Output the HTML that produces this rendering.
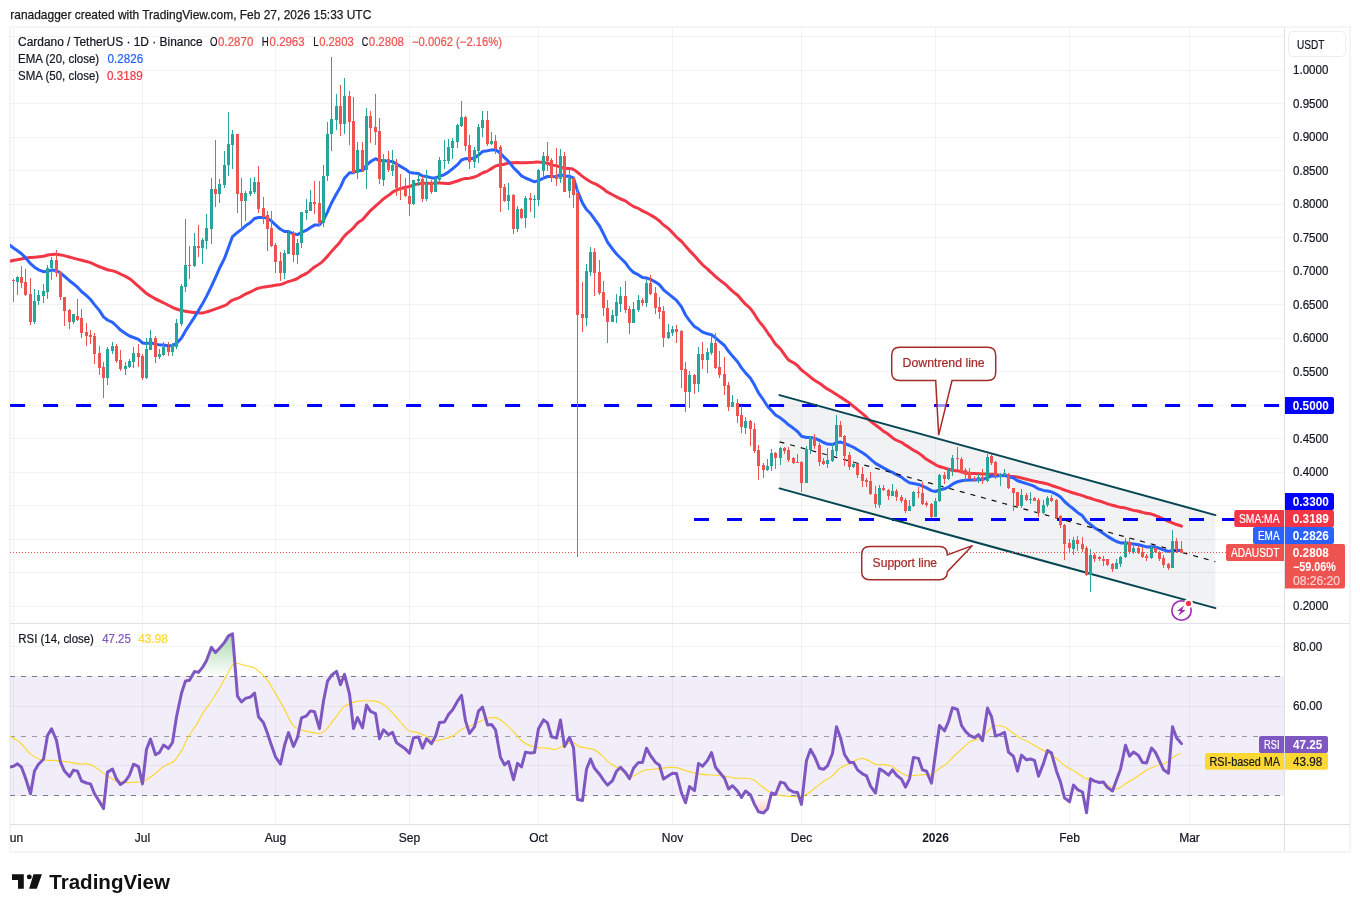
<!DOCTYPE html>
<html lang="en"><head><meta charset="utf-8"><title>ADAUSDT chart</title>
<style>html,body{margin:0;padding:0;background:#fff}body{width:1360px;height:912px;position:relative;overflow:hidden;font-family:"Liberation Sans",sans-serif}</style></head>
<body>
<svg width="1360" height="912" viewBox="0 0 1360 912" style="position:absolute;left:0;top:0;font-family:'Liberation Sans',sans-serif">
<defs>
<clipPath id="cpMain"><rect x="10" y="28" width="1275" height="595"/></clipPath>
<clipPath id="cpRsi"><rect x="10" y="624" width="1275" height="200"/></clipPath>
<clipPath id="cpTime"><rect x="10" y="825" width="1275" height="26"/></clipPath>
<linearGradient id="gUp" x1="0" y1="0" x2="0" y2="1"><stop offset="0" stop-color="#4caf50" stop-opacity="0.48"/><stop offset="1" stop-color="#4caf50" stop-opacity="0"/></linearGradient>
<linearGradient id="gDn" x1="0" y1="0" x2="0" y2="1"><stop offset="0" stop-color="#ff5252" stop-opacity="0"/><stop offset="1" stop-color="#ff5252" stop-opacity="0.3"/></linearGradient>
</defs>
<rect width="1360" height="912" fill="#fff"/>
<text x="10.3" y="19" font-size="12.6" fill="#1a1a1a" stroke="#1a1a1a" stroke-width="0.25" textLength="361" lengthAdjust="spacingAndGlyphs">ranadagger created with TradingView.com, Feb 27, 2026 15:33 UTC</text>
<rect x="10" y="27" width="1340" height="825" fill="#fff" stroke="#f4f5f6" stroke-width="2"/>
<g shape-rendering="crispEdges">
<rect x="13" y="28" width="1" height="595" fill="#24302e" fill-opacity="0.06"/>
<rect x="13" y="624" width="1" height="200" fill="#24302e" fill-opacity="0.06"/>
<rect x="142" y="28" width="1" height="595" fill="#24302e" fill-opacity="0.06"/>
<rect x="142" y="624" width="1" height="200" fill="#24302e" fill-opacity="0.06"/>
<rect x="275" y="28" width="1" height="595" fill="#24302e" fill-opacity="0.06"/>
<rect x="275" y="624" width="1" height="200" fill="#24302e" fill-opacity="0.06"/>
<rect x="409" y="28" width="1" height="595" fill="#24302e" fill-opacity="0.06"/>
<rect x="409" y="624" width="1" height="200" fill="#24302e" fill-opacity="0.06"/>
<rect x="538" y="28" width="1" height="595" fill="#24302e" fill-opacity="0.06"/>
<rect x="538" y="624" width="1" height="200" fill="#24302e" fill-opacity="0.06"/>
<rect x="672" y="28" width="1" height="595" fill="#24302e" fill-opacity="0.06"/>
<rect x="672" y="624" width="1" height="200" fill="#24302e" fill-opacity="0.06"/>
<rect x="801" y="28" width="1" height="595" fill="#24302e" fill-opacity="0.06"/>
<rect x="801" y="624" width="1" height="200" fill="#24302e" fill-opacity="0.06"/>
<rect x="935" y="28" width="1" height="595" fill="#24302e" fill-opacity="0.06"/>
<rect x="935" y="624" width="1" height="200" fill="#24302e" fill-opacity="0.06"/>
<rect x="1069" y="28" width="1" height="595" fill="#24302e" fill-opacity="0.06"/>
<rect x="1069" y="624" width="1" height="200" fill="#24302e" fill-opacity="0.06"/>
<rect x="1189" y="28" width="1" height="595" fill="#24302e" fill-opacity="0.06"/>
<rect x="1189" y="624" width="1" height="200" fill="#24302e" fill-opacity="0.06"/>
<rect x="10" y="36" width="1275" height="1" fill="#24302e" fill-opacity="0.06"/>
<rect x="10" y="70" width="1275" height="1" fill="#24302e" fill-opacity="0.06"/>
<rect x="10" y="103" width="1275" height="1" fill="#24302e" fill-opacity="0.06"/>
<rect x="10" y="137" width="1275" height="1" fill="#24302e" fill-opacity="0.06"/>
<rect x="10" y="170" width="1275" height="1" fill="#24302e" fill-opacity="0.06"/>
<rect x="10" y="204" width="1275" height="1" fill="#24302e" fill-opacity="0.06"/>
<rect x="10" y="237" width="1275" height="1" fill="#24302e" fill-opacity="0.06"/>
<rect x="10" y="271" width="1275" height="1" fill="#24302e" fill-opacity="0.06"/>
<rect x="10" y="304" width="1275" height="1" fill="#24302e" fill-opacity="0.06"/>
<rect x="10" y="338" width="1275" height="1" fill="#24302e" fill-opacity="0.06"/>
<rect x="10" y="371" width="1275" height="1" fill="#24302e" fill-opacity="0.06"/>
<rect x="10" y="405" width="1275" height="1" fill="#24302e" fill-opacity="0.06"/>
<rect x="10" y="438" width="1275" height="1" fill="#24302e" fill-opacity="0.06"/>
<rect x="10" y="472" width="1275" height="1" fill="#24302e" fill-opacity="0.06"/>
<rect x="10" y="505" width="1275" height="1" fill="#24302e" fill-opacity="0.06"/>
<rect x="10" y="539" width="1275" height="1" fill="#24302e" fill-opacity="0.06"/>
<rect x="10" y="572" width="1275" height="1" fill="#24302e" fill-opacity="0.06"/>
<rect x="10" y="606" width="1275" height="1" fill="#24302e" fill-opacity="0.06"/>
<rect x="10" y="646" width="1275" height="1" fill="#24302e" fill-opacity="0.06"/>
<rect x="10" y="706" width="1275" height="1" fill="#24302e" fill-opacity="0.06"/>
<rect x="10" y="765" width="1275" height="1" fill="#24302e" fill-opacity="0.06"/>
</g>
<g clip-path="url(#cpMain)">
<polygon points="779.5,395.1 1215.4,515.1 1215.4,608.1 779.5,488.4" fill="#5d6b7e" fill-opacity="0.085"/>
<path d="M10.0,261.2C11.6,260.9 16.6,259.8 19.9,259.2C23.2,258.6 26.1,258.1 29.7,257.6C33.4,257.2 38.3,257.1 41.6,256.6C44.9,256.2 47.0,255.1 49.5,254.7C51.9,254.3 54.4,254.2 56.4,254.3C58.4,254.3 59.2,254.6 61.3,255.1C63.5,255.5 66.2,256.3 69.2,257.0C72.2,257.8 75.8,258.8 79.1,259.6C82.4,260.5 85.7,261.0 88.9,262.2C92.2,263.3 95.9,265.3 98.8,266.5C101.8,267.7 104.1,268.7 106.7,269.5C109.3,270.3 112.0,270.5 114.6,271.4C117.2,272.4 119.9,273.7 122.5,275.0C125.1,276.3 127.8,277.5 130.4,279.3C133.0,281.2 135.7,283.9 138.3,286.2C140.9,288.6 143.6,291.2 146.2,293.2C148.8,295.1 151.1,296.4 154.1,298.1C157.0,299.7 160.7,301.4 163.9,303.0C167.2,304.7 170.9,306.7 173.8,308.0C176.8,309.2 179.0,309.9 181.7,310.5C184.4,311.2 187.5,311.6 190.0,311.9C192.5,312.2 194.5,312.4 196.8,312.5C199.2,312.6 199.5,313.8 204.1,312.6C208.7,311.4 220.4,307.2 224.5,305.6C228.6,304.0 227.2,303.9 228.5,303.0C229.8,302.1 231.0,300.9 232.5,300.2C234.0,299.4 236.0,299.0 237.5,298.4C239.0,297.8 240.2,297.1 241.5,296.4C242.8,295.7 244.0,294.8 245.5,294.1C247.0,293.3 249.0,292.7 250.5,291.9C252.0,291.2 253.2,290.4 254.5,289.8C255.8,289.1 257.0,288.6 258.5,288.1C260.0,287.7 262.0,287.4 263.5,287.1C265.0,286.8 266.2,286.7 267.5,286.5C268.8,286.3 270.2,286.1 271.5,285.9C272.8,285.7 274.0,285.5 275.5,285.2C277.0,285.0 279.0,284.8 280.5,284.5C282.0,284.1 283.2,283.6 284.5,283.1C285.8,282.6 287.0,281.9 288.5,281.5C290.0,281.0 292.0,280.7 293.5,280.2C295.0,279.6 296.2,279.1 297.5,278.4C298.8,277.7 300.0,276.7 301.5,275.9C303.0,275.1 305.0,274.3 306.5,273.4C308.0,272.4 309.2,271.4 310.5,270.3C311.8,269.3 313.0,268.1 314.5,267.0C316.0,266.0 318.0,265.0 319.5,263.9C321.0,262.8 322.2,261.8 323.5,260.5C324.8,259.2 326.2,257.7 327.5,256.2C328.8,254.7 330.0,253.1 331.5,251.4C333.0,249.7 335.0,247.8 336.5,246.1C338.0,244.4 339.2,243.0 340.5,241.3C341.8,239.6 343.0,237.6 344.5,236.0C346.0,234.3 348.0,232.7 349.5,231.4C351.0,230.0 352.2,229.1 353.5,227.7C354.8,226.3 356.0,224.5 357.5,223.1C359.0,221.8 361.0,220.9 362.5,219.6C364.0,218.2 365.2,216.6 366.5,215.1C367.8,213.6 369.0,212.1 370.5,210.6C372.0,209.0 374.0,207.4 375.5,206.1C377.0,204.8 378.2,203.9 379.5,202.7C380.8,201.5 382.0,200.1 383.5,198.9C385.0,197.7 387.0,196.5 388.5,195.4C390.0,194.3 391.2,193.1 392.5,192.2C393.8,191.4 395.2,190.8 396.5,190.2C397.8,189.7 399.0,189.2 400.5,188.7C402.0,188.3 404.0,187.7 405.5,187.3C407.0,187.0 408.2,186.9 409.5,186.5C410.8,186.1 412.0,185.6 413.5,185.2C415.0,184.7 417.0,184.2 418.5,183.9C420.0,183.6 421.2,183.5 422.5,183.3C423.8,183.2 425.0,183.2 426.5,183.2C428.0,183.2 430.0,183.2 431.5,183.2C433.0,183.2 434.2,183.1 435.5,183.1C436.8,183.1 438.0,183.0 439.5,183.0C441.0,183.0 443.0,183.2 444.5,183.3C446.0,183.4 447.2,183.7 448.5,183.6C449.8,183.4 451.0,182.9 452.5,182.5C454.0,182.1 456.0,181.5 457.5,181.0C459.0,180.5 460.2,179.9 461.5,179.5C462.8,179.1 464.2,178.8 465.5,178.6C466.8,178.4 468.0,178.4 469.5,178.2C471.0,177.9 473.0,177.5 474.5,177.0C476.0,176.5 477.2,175.9 478.5,175.2C479.8,174.5 481.0,173.7 482.5,173.0C484.0,172.3 486.0,171.7 487.5,171.0C489.0,170.3 490.2,169.4 491.5,168.6C492.8,167.8 494.0,166.7 495.5,166.1C497.0,165.5 499.0,165.1 500.5,164.8C502.0,164.5 503.2,164.5 504.5,164.2C505.8,163.9 507.0,163.2 508.5,163.0C510.0,162.7 512.0,162.8 513.5,162.7C515.0,162.6 516.2,162.6 517.5,162.6C518.8,162.7 520.2,162.8 521.5,162.8C522.8,162.8 524.0,162.7 525.5,162.7C527.0,162.7 529.0,162.7 530.5,162.6C532.0,162.6 533.2,162.3 534.5,162.2C535.8,162.1 537.0,162.0 538.5,162.1C540.0,162.1 542.0,162.3 543.5,162.5C545.0,162.7 546.2,163.0 547.5,163.3C548.8,163.7 550.0,164.3 551.5,164.8C553.0,165.2 555.0,165.5 556.5,165.9C558.0,166.3 559.2,166.6 560.5,167.1C561.8,167.5 563.0,168.2 564.5,168.5C566.0,168.7 568.0,168.4 569.5,168.6C571.0,168.7 572.2,168.8 573.5,169.5C574.8,170.1 576.0,171.2 577.5,172.3C579.0,173.5 581.0,175.2 582.5,176.4C584.0,177.5 585.2,178.4 586.5,179.3C587.8,180.1 589.2,180.9 590.5,181.7C591.8,182.4 593.0,182.8 594.5,183.5C596.0,184.3 598.0,185.3 599.5,186.2C601.0,187.1 602.2,188.0 603.5,189.0C604.8,189.9 606.0,191.2 607.5,192.1C609.0,193.1 611.0,193.9 612.5,194.7C614.0,195.5 615.2,196.2 616.5,196.9C617.8,197.6 619.0,198.2 620.5,198.9C622.0,199.6 624.0,200.2 625.5,201.0C627.0,201.8 628.2,203.0 629.5,203.9C630.8,204.8 632.0,205.7 633.5,206.5C635.0,207.2 637.0,207.7 638.5,208.5C640.0,209.2 641.2,210.2 642.5,210.9C643.8,211.6 645.2,212.0 646.5,212.7C647.8,213.4 649.0,214.1 650.5,215.0C652.0,215.9 654.0,217.0 655.5,218.0C657.0,219.0 658.2,219.9 659.5,221.0C660.8,222.1 662.0,223.6 663.5,224.8C665.0,226.1 667.0,227.3 668.5,228.6C670.0,230.0 671.2,231.3 672.5,232.7C673.8,234.1 675.0,235.6 676.5,237.0C678.0,238.5 680.0,240.0 681.5,241.5C683.0,243.0 684.2,244.6 685.5,246.1C686.8,247.6 688.0,249.0 689.5,250.6C691.0,252.2 693.0,254.1 694.5,255.8C696.0,257.4 697.2,258.9 698.5,260.4C699.8,261.9 701.0,263.3 702.5,264.7C704.0,266.2 706.0,267.6 707.5,269.0C709.0,270.3 710.2,271.6 711.5,272.8C712.8,274.1 714.2,275.3 715.5,276.5C716.8,277.6 718.0,278.7 719.5,279.9C721.0,281.1 723.0,282.5 724.5,283.7C726.0,285.0 727.2,286.1 728.5,287.3C729.8,288.5 731.0,289.9 732.5,291.2C734.0,292.5 736.0,293.7 737.5,295.1C739.0,296.5 740.2,298.2 741.5,299.7C742.8,301.2 744.0,302.6 745.5,304.1C747.0,305.6 749.0,307.0 750.5,308.7C752.0,310.4 753.2,312.4 754.5,314.3C755.8,316.3 757.0,318.5 758.5,320.5C760.0,322.6 762.0,324.7 763.5,326.7C765.0,328.7 766.2,330.6 767.5,332.5C768.8,334.4 770.2,336.1 771.5,338.0C772.8,339.9 774.0,342.1 775.5,344.0C777.0,345.9 779.0,347.4 780.5,349.1C782.0,350.9 783.2,352.8 784.5,354.6C785.8,356.4 787.0,358.5 788.5,359.9C790.0,361.3 792.0,361.9 793.5,362.8C795.0,363.8 796.2,364.5 797.5,365.7C798.8,366.9 800.0,368.6 801.5,370.0C803.0,371.3 805.0,372.7 806.5,373.9C808.0,375.1 809.2,376.1 810.5,377.2C811.8,378.2 813.0,379.2 814.5,380.2C816.0,381.3 818.0,382.3 819.5,383.3C821.0,384.3 822.2,385.2 823.5,386.2C824.8,387.1 826.0,388.1 827.5,389.1C829.0,390.0 831.0,391.1 832.5,392.0C834.0,392.9 835.2,393.7 836.5,394.6C837.8,395.5 839.2,396.3 840.5,397.1C841.8,398.0 843.0,398.8 844.5,399.8C846.0,400.8 848.0,401.9 849.5,403.0C851.0,404.0 852.2,405.1 853.5,406.3C854.8,407.4 856.0,408.5 857.5,409.7C859.0,410.9 861.0,412.4 862.5,413.6C864.0,414.9 865.2,416.2 866.5,417.4C867.8,418.7 869.0,419.9 870.5,421.1C872.0,422.4 874.0,423.9 875.5,425.0C877.0,426.1 878.2,427.0 879.5,428.0C880.8,429.0 882.0,430.1 883.5,431.2C885.0,432.2 887.0,433.4 888.5,434.5C890.0,435.6 891.2,436.7 892.5,437.7C893.8,438.6 895.0,439.4 896.5,440.2C898.0,441.0 900.0,441.6 901.5,442.4C903.0,443.2 904.2,444.3 905.5,445.1C906.8,446.0 908.2,446.7 909.5,447.5C910.8,448.4 912.0,449.4 913.5,450.3C915.0,451.2 917.0,452.0 918.5,453.0C920.0,453.9 921.2,455.0 922.5,456.0C923.8,457.1 925.0,458.2 926.5,459.3C928.0,460.3 930.0,461.3 931.5,462.2C933.0,463.1 934.2,464.0 935.5,464.7C936.8,465.5 938.0,466.0 939.5,466.5C941.0,467.1 943.0,467.5 944.5,468.0C946.0,468.4 947.2,469.0 948.5,469.3C949.8,469.7 951.0,469.9 952.5,470.2C954.0,470.4 956.0,470.5 957.5,470.8C959.0,471.1 960.2,471.5 961.5,471.8C962.8,472.2 964.2,472.5 965.5,472.7C966.8,473.0 968.0,473.2 969.5,473.3C971.0,473.4 973.0,473.5 974.5,473.6C976.0,473.7 977.2,473.7 978.5,473.7C979.8,473.8 981.0,474.0 982.5,474.0C984.0,474.1 986.0,474.1 987.5,474.1C989.0,474.2 990.2,474.1 991.5,474.2C992.8,474.4 994.0,474.6 995.5,474.8C997.0,475.0 999.0,475.1 1000.5,475.3C1002.0,475.4 1003.2,475.4 1004.5,475.5C1005.8,475.7 1007.0,475.9 1008.5,476.0C1010.0,476.2 1012.0,476.5 1013.5,476.6C1015.0,476.8 1016.2,476.9 1017.5,477.1C1018.8,477.3 1020.0,477.7 1021.5,478.0C1023.0,478.4 1025.0,478.9 1026.5,479.3C1028.0,479.7 1029.2,480.0 1030.5,480.3C1031.8,480.6 1033.2,480.8 1034.5,481.1C1035.8,481.4 1037.0,481.8 1038.5,482.1C1040.0,482.4 1042.0,482.7 1043.5,483.0C1045.0,483.3 1046.2,483.5 1047.5,483.9C1048.8,484.4 1050.0,484.9 1051.5,485.5C1053.0,486.0 1055.0,486.6 1056.5,487.1C1058.0,487.6 1059.2,488.0 1060.5,488.4C1061.8,488.9 1063.0,489.5 1064.5,490.0C1066.0,490.5 1068.0,491.2 1069.5,491.7C1071.0,492.2 1072.2,492.5 1073.5,493.0C1074.8,493.4 1076.0,493.8 1077.5,494.2C1079.0,494.7 1081.0,495.1 1082.5,495.6C1084.0,496.1 1085.2,496.8 1086.5,497.2C1087.8,497.6 1089.2,497.8 1090.5,498.2C1091.8,498.6 1093.0,499.2 1094.5,499.6C1096.0,500.1 1098.0,500.6 1099.5,501.0C1101.0,501.5 1102.2,501.8 1103.5,502.3C1104.8,502.8 1106.0,503.3 1107.5,503.8C1109.0,504.3 1111.0,504.8 1112.5,505.2C1114.0,505.6 1115.2,506.1 1116.5,506.4C1117.8,506.8 1119.0,507.1 1120.5,507.4C1122.0,507.6 1124.0,507.7 1125.5,508.1C1127.0,508.4 1128.2,508.9 1129.5,509.3C1130.8,509.6 1132.0,510.0 1133.5,510.4C1135.0,510.7 1137.0,511.0 1138.5,511.3C1140.0,511.7 1141.2,512.1 1142.5,512.4C1143.8,512.7 1145.0,512.9 1146.5,513.2C1148.0,513.5 1150.0,513.7 1151.5,514.1C1153.0,514.5 1154.2,515.1 1155.5,515.7C1156.8,516.2 1158.2,516.7 1159.5,517.2C1160.8,517.8 1162.0,518.4 1163.5,519.1C1165.0,519.8 1167.0,520.7 1168.5,521.3C1170.0,522.0 1171.2,522.4 1172.5,523.0C1173.8,523.5 1175.0,524.0 1176.5,524.5C1178.0,525.0 1180.7,525.8 1181.5,526.1" fill="none" stroke="#f23645" stroke-width="3" stroke-linejoin="round" stroke-linecap="round"/>
<path d="M9.2,244.8L13.5,248.0L17.5,250.7L21.5,253.7L25.5,257.6L30.5,263.7L34.5,267.2L38.5,269.8L43.5,271.7L47.5,271.3L51.5,270.1L56.5,270.4L60.5,272.9L64.5,276.4L69.5,280.7L73.5,283.8L77.5,287.2L81.5,291.5L86.5,295.6L90.5,299.5L94.5,304.6L99.5,310.6L103.5,316.9L107.5,320.0L112.5,322.4L116.5,326.0L120.5,330.1L125.5,333.4L129.5,336.0L133.5,337.5L138.5,339.3L142.5,342.9L146.5,343.4L150.5,342.8L155.5,344.1L159.5,344.9L163.5,345.1L168.5,345.7L172.5,345.6L176.5,343.4L181.5,337.9L185.5,330.9L189.5,324.7L194.5,317.1L198.5,310.5L202.5,303.7L206.5,296.4L211.5,286.2L215.5,277.3L219.5,268.3L224.5,258.4L228.5,247.5L232.5,236.6L237.5,232.4L241.5,229.4L245.5,225.8L250.5,222.5L254.5,218.5L258.5,217.5L263.5,217.4L267.5,218.4L271.5,221.0L275.5,224.8L280.5,229.3L284.5,231.5L288.5,231.6L293.5,233.8L297.5,234.6L301.5,232.4L306.5,230.2L310.5,227.5L314.5,225.1L319.5,224.9L323.5,220.1L327.5,211.9L331.5,203.0L336.5,193.7L340.5,186.9L344.5,178.2L349.5,172.8L353.5,172.8L357.5,170.5L362.5,170.5L366.5,165.2L370.5,161.6L375.5,158.7L379.5,160.6L383.5,160.4L388.5,161.3L392.5,161.6L396.5,164.0L400.5,166.4L405.5,169.2L409.5,172.4L413.5,173.1L418.5,173.6L422.5,176.0L426.5,176.5L431.5,177.9L435.5,178.0L439.5,176.2L444.5,174.6L448.5,171.9L452.5,168.9L457.5,164.7L461.5,160.0L465.5,158.6L469.5,158.9L474.5,158.0L478.5,155.0L482.5,151.6L487.5,150.8L491.5,149.9L495.5,149.7L500.5,153.2L504.5,157.7L508.5,161.3L513.5,167.7L517.5,171.6L521.5,175.9L525.5,178.0L530.5,180.1L534.5,181.8L538.5,180.6L543.5,178.2L547.5,176.5L551.5,176.6L556.5,176.7L560.5,174.7L564.5,176.2L569.5,176.3L573.5,178.0L577.5,191.0L582.5,203.1L586.5,209.5L590.5,213.5L594.5,219.1L599.5,226.0L603.5,233.8L607.5,242.1L612.5,249.0L616.5,254.0L620.5,258.0L625.5,262.8L629.5,268.5L633.5,272.3L638.5,274.9L642.5,277.5L646.5,277.9L650.5,279.4L655.5,282.1L659.5,284.8L663.5,289.8L668.5,293.8L672.5,297.1L676.5,300.3L681.5,306.9L685.5,315.0L689.5,320.6L694.5,326.6L698.5,329.1L702.5,332.0L707.5,333.8L711.5,334.7L715.5,337.8L719.5,341.3L724.5,345.5L728.5,351.3L732.5,356.1L737.5,361.7L741.5,367.9L745.5,372.9L750.5,378.2L754.5,385.1L758.5,392.8L763.5,400.0L767.5,406.2L771.5,410.6L775.5,415.0L780.5,418.1L784.5,421.2L788.5,424.8L793.5,428.3L797.5,431.5L801.5,436.3L806.5,437.5L810.5,437.4L814.5,438.2L819.5,440.4L823.5,442.5L827.5,444.1L832.5,444.6L836.5,442.7L840.5,442.1L844.5,443.4L849.5,445.5L853.5,447.3L857.5,449.8L862.5,452.7L866.5,455.5L870.5,459.1L875.5,463.4L879.5,465.6L883.5,467.9L888.5,470.5L892.5,472.4L896.5,474.7L901.5,477.1L905.5,480.3L909.5,482.7L913.5,483.5L918.5,484.4L922.5,486.2L926.5,487.9L931.5,490.6L935.5,491.5L939.5,489.9L944.5,488.8L948.5,487.0L952.5,484.2L957.5,481.7L961.5,480.7L965.5,480.2L969.5,480.0L974.5,479.9L978.5,479.6L982.5,479.7L987.5,477.5L991.5,476.1L995.5,476.0L1000.5,475.7L1004.5,475.4L1008.5,476.6L1013.5,478.1L1017.5,480.7L1021.5,482.0L1026.5,483.6L1030.5,484.9L1034.5,486.4L1038.5,488.9L1043.5,490.4L1047.5,491.0L1051.5,491.9L1056.5,494.3L1060.5,497.1L1064.5,501.5L1069.5,505.9L1073.5,509.0L1077.5,512.4L1082.5,515.8L1086.5,521.4L1090.5,524.5L1094.5,527.7L1099.5,530.7L1103.5,533.5L1107.5,536.4L1112.5,539.4L1116.5,541.5L1120.5,542.9L1125.5,542.7L1129.5,543.5L1133.5,543.9L1138.5,544.7L1142.5,545.8L1146.5,546.9L1151.5,546.8L1155.5,547.3L1159.5,548.3L1163.5,549.8L1168.5,551.5L1172.5,550.4L1176.5,550.3L1181.5,550.5" fill="none" stroke="#2962ff" stroke-width="3" stroke-linejoin="round" stroke-linecap="round"/>
<line x1="10.1" y1="405.5" x2="1285" y2="405.5" stroke="#0000ff" stroke-width="3" stroke-dasharray="15 18"/>
<line x1="694" y1="519.5" x2="1285" y2="519.5" stroke="#0000ff" stroke-width="3" stroke-dasharray="15 18"/>
<line x1="779.5" y1="441.8" x2="1215.4" y2="561.6" stroke="#111" stroke-width="1.2" stroke-dasharray="5 6"/>
<line x1="779.5" y1="395.1" x2="1215.4" y2="515.1" stroke="#064653" stroke-width="2" stroke-linecap="round"/>
<line x1="779.5" y1="488.4" x2="1215.4" y2="608.1" stroke="#064653" stroke-width="2" stroke-linecap="round"/>
<g shape-rendering="crispEdges">
<path d="M17,276h1v19h-1zM16,277h3v5h-3zM34,289h1v35h-1zM33,301h3v21h-3zM38,290h1v15h-1zM37,295h3v6h-3zM43,284h1v19h-1zM42,291h3v5h-3zM47,265h1v34h-1zM46,268h3v24h-3zM51,257h1v23h-1zM50,260h3v8h-3zM73,314h1v10h-1zM72,314h3v8h-3zM107,347h1v38h-1zM106,349h3v29h-3zM112,342h1v12h-1zM111,346h3v5h-3zM125,362h1v13h-1zM124,366h3v3h-3zM129,359h1v9h-1zM128,361h3v6h-3zM133,347h1v21h-1zM132,353h3v9h-3zM146,338h1v41h-1zM145,349h3v29h-3zM150,330h1v20h-1zM149,338h3v12h-3zM159,349h1v10h-1zM158,354h3v3h-3zM163,342h1v14h-1zM162,347h3v8h-3zM172,343h1v13h-1zM171,345h3v7h-3zM176,319h1v30h-1zM175,323h3v24h-3zM181,284h1v42h-1zM180,286h3v38h-3zM185,219h1v73h-1zM184,265h3v22h-3zM194,233h1v34h-1zM193,246h3v20h-3zM202,238h1v26h-1zM201,240h3v8h-3zM206,214h1v35h-1zM205,228h3v13h-3zM211,178h1v66h-1zM210,189h3v40h-3zM219,179h1v24h-1zM218,184h3v10h-3zM224,151h1v37h-1zM223,165h3v20h-3zM228,112h1v64h-1zM227,144h3v21h-3zM232,130h1v39h-1zM231,134h3v11h-3zM245,191h1v30h-1zM244,193h3v8h-3zM250,178h1v18h-1zM249,191h3v3h-3zM254,177h1v17h-1zM253,182h3v10h-3zM284,250h1v29h-1zM283,253h3v20h-3zM288,231h1v23h-1zM287,233h3v21h-3zM297,239h1v25h-1zM296,243h3v12h-3zM301,212h1v36h-1zM300,212h3v31h-3zM306,199h1v21h-1zM305,210h3v3h-3zM310,190h1v21h-1zM309,202h3v9h-3zM323,165h1v62h-1zM322,176h3v47h-3zM327,122h1v59h-1zM326,134h3v42h-3zM331,57h1v94h-1zM330,119h3v15h-3zM336,94h1v36h-1zM335,106h3v14h-3zM344,78h1v56h-1zM343,96h3v28h-3zM357,142h1v37h-1zM356,150h3v23h-3zM366,108h1v81h-1zM365,116h3v54h-3zM383,154h1v32h-1zM382,159h3v21h-3zM392,150h1v26h-1zM391,165h3v6h-3zM413,180h1v25h-1zM412,180h3v24h-3zM418,174h1v12h-1zM417,179h3v2h-3zM426,170h1v31h-1zM425,183h3v16h-3zM435,176h1v16h-1zM434,179h3v13h-3zM439,157h1v27h-1zM438,160h3v20h-3zM444,140h1v29h-1zM443,160h3v1h-3zM448,139h1v25h-1zM447,147h3v14h-3zM452,138h1v21h-1zM451,141h3v7h-3zM457,124h1v24h-1zM456,125h3v17h-3zM461,101h1v26h-1zM460,117h3v9h-3zM474,147h1v21h-1zM473,150h3v12h-3zM478,124h1v39h-1zM477,127h3v24h-3zM482,111h1v26h-1zM481,120h3v8h-3zM491,132h1v13h-1zM490,141h3v3h-3zM508,183h1v27h-1zM507,195h3v6h-3zM517,206h1v26h-1zM516,209h3v20h-3zM525,196h1v32h-1zM524,198h3v20h-3zM534,195h1v23h-1zM533,199h3v1h-3zM538,169h1v37h-1zM537,170h3v30h-3zM543,152h1v27h-1zM542,156h3v15h-3zM560,149h1v34h-1zM559,156h3v23h-3zM569,169h1v29h-1zM568,178h3v13h-3zM586,264h1v62h-1zM585,271h3v47h-3zM590,247h1v29h-1zM589,252h3v20h-3zM612,310h1v12h-1zM611,315h3v7h-3zM616,294h1v29h-1zM615,302h3v14h-3zM620,287h1v25h-1zM619,296h3v8h-3zM633,302h1v21h-1zM632,309h3v14h-3zM638,295h1v17h-1zM637,300h3v10h-3zM646,279h1v28h-1zM645,283h3v20h-3zM668,324h1v15h-1zM667,332h3v6h-3zM672,326h1v10h-1zM671,329h3v4h-3zM689,371h1v37h-1zM688,375h3v17h-3zM698,347h1v45h-1zM697,354h3v30h-3zM707,348h1v25h-1zM706,352h3v8h-3zM711,336h1v19h-1zM710,343h3v10h-3zM732,395h1v12h-1zM731,402h3v5h-3zM745,417h1v17h-1zM744,421h3v7h-3zM767,459h1v12h-1zM766,466h3v4h-3zM771,449h1v22h-1zM770,453h3v13h-3zM780,447h1v18h-1zM779,448h3v10h-3zM806,446h1v37h-1zM805,449h3v34h-3zM810,436h1v18h-1zM809,437h3v13h-3zM827,448h1v20h-1zM826,460h3v4h-3zM832,444h1v18h-1zM831,450h3v11h-3zM836,415h1v41h-1zM835,425h3v26h-3zM853,461h1v7h-1zM852,464h3v3h-3zM879,485h1v23h-1zM878,488h3v17h-3zM892,484h1v12h-1zM891,491h3v5h-3zM909,500h1v11h-1zM908,506h3v5h-3zM913,491h1v16h-1zM912,492h3v14h-3zM935,498h1v19h-1zM934,501h3v16h-3zM939,474h1v28h-1zM938,475h3v26h-3zM948,468h1v12h-1zM947,470h3v9h-3zM952,455h1v21h-1zM951,458h3v14h-3zM978,474h1v9h-1zM977,477h3v4h-3zM987,454h1v28h-1zM986,457h3v24h-3zM1000,473h1v13h-1zM999,474h3v3h-3zM1004,469h1v7h-1zM1003,473h3v2h-3zM1021,489h1v19h-1zM1020,495h3v11h-3zM1030,492h1v12h-1zM1029,499h3v1h-3zM1043,500h1v14h-1zM1042,505h3v8h-3zM1047,496h1v11h-1zM1046,498h3v7h-3zM1073,537h1v18h-1zM1072,540h3v9h-3zM1090,549h1v43h-1zM1089,555h3v20h-3zM1116,559h1v10h-1zM1115,563h3v6h-3zM1120,556h1v11h-1zM1119,557h3v7h-3zM1125,538h1v20h-1zM1124,542h3v15h-3zM1133,544h1v10h-1zM1132,548h3v4h-3zM1151,543h1v16h-1zM1150,547h3v11h-3zM1172,530h1v38h-1zM1171,541h3v27h-3z" fill="#26a69a"/>
<path d="M13,279h1v23h-1zM12,280h3v1h-3zM21,266h1v22h-1zM20,277h3v6h-3zM25,269h1v27h-1zM24,282h3v13h-3zM30,278h1v47h-1zM29,294h3v28h-3zM56,250h1v27h-1zM55,260h3v13h-3zM60,271h1v29h-1zM59,272h3v25h-3zM64,297h1v29h-1zM63,297h3v14h-3zM69,309h1v20h-1zM68,310h3v12h-3zM77,299h1v22h-1zM76,316h3v4h-3zM81,309h1v29h-1zM80,318h3v15h-3zM86,323h1v23h-1zM85,332h3v4h-3zM90,330h1v14h-1zM89,335h3v2h-3zM94,333h1v31h-1zM93,336h3v18h-3zM99,346h1v29h-1zM98,353h3v15h-3zM103,362h1v36h-1zM102,367h3v11h-3zM116,344h1v19h-1zM115,346h3v15h-3zM120,350h1v21h-1zM119,360h3v9h-3zM138,344h1v23h-1zM137,353h3v4h-3zM142,354h1v26h-1zM141,356h3v22h-3zM155,336h1v27h-1zM154,338h3v19h-3zM168,342h1v14h-1zM167,347h3v5h-3zM189,246h1v33h-1zM188,265h3v1h-3zM198,225h1v32h-1zM197,246h3v2h-3zM215,140h1v67h-1zM214,189h3v5h-3zM237,134h1v79h-1zM236,134h3v60h-3zM241,178h1v52h-1zM240,193h3v8h-3zM258,166h1v47h-1zM257,182h3v27h-3zM263,197h1v27h-1zM262,208h3v9h-3zM267,211h1v40h-1zM266,215h3v14h-3zM271,211h1v36h-1zM270,228h3v18h-3zM275,243h1v30h-1zM274,245h3v17h-3zM280,252h1v29h-1zM279,261h3v12h-3zM293,231h1v31h-1zM292,233h3v22h-3zM314,181h1v33h-1zM313,202h3v2h-3zM319,181h1v45h-1zM318,203h3v20h-3zM340,85h1v51h-1zM339,106h3v18h-3zM349,91h1v54h-1zM348,96h3v26h-3zM353,97h1v77h-1zM352,121h3v52h-3zM362,142h1v30h-1zM361,150h3v20h-3zM370,111h1v32h-1zM369,116h3v12h-3zM375,94h1v51h-1zM374,127h3v5h-3zM379,118h1v66h-1zM378,131h3v48h-3zM388,151h1v21h-1zM387,159h3v11h-3zM396,159h1v37h-1zM395,164h3v24h-3zM400,174h1v26h-1zM399,187h3v3h-3zM405,178h1v19h-1zM404,189h3v7h-3zM409,173h1v43h-1zM408,196h3v8h-3zM422,176h1v26h-1zM421,179h3v20h-3zM431,180h1v14h-1zM430,182h3v10h-3zM465,116h1v35h-1zM464,117h3v29h-3zM469,135h1v34h-1zM468,145h3v17h-3zM487,111h1v35h-1zM486,120h3v24h-3zM495,135h1v19h-1zM494,141h3v8h-3zM500,145h1v67h-1zM499,147h3v41h-3zM504,184h1v18h-1zM503,187h3v14h-3zM513,194h1v40h-1zM512,195h3v34h-3zM521,208h1v11h-1zM520,209h3v9h-3zM530,193h1v19h-1zM529,198h3v2h-3zM547,142h1v29h-1zM546,156h3v5h-3zM551,158h1v24h-1zM550,160h3v18h-3zM556,148h1v38h-1zM555,176h3v3h-3zM564,152h1v40h-1zM563,156h3v36h-3zM573,177h1v31h-1zM572,178h3v17h-3zM577,188h1v369h-1zM576,193h3v122h-3zM582,282h1v50h-1zM581,314h3v4h-3zM594,248h1v48h-1zM593,252h3v21h-3zM599,260h1v35h-1zM598,272h3v21h-3zM603,281h1v35h-1zM602,292h3v16h-3zM607,300h1v43h-1zM606,308h3v14h-3zM625,281h1v32h-1zM624,296h3v14h-3zM629,306h1v28h-1zM628,309h3v14h-3zM642,298h1v8h-1zM641,300h3v3h-3zM650,275h1v20h-1zM649,283h3v11h-3zM655,287h1v27h-1zM654,293h3v15h-3zM659,297h1v22h-1zM658,307h3v5h-3zM663,306h1v41h-1zM662,311h3v27h-3zM676,325h1v18h-1zM675,329h3v3h-3zM681,330h1v58h-1zM680,331h3v39h-3zM685,362h1v50h-1zM684,369h3v23h-3zM694,374h1v20h-1zM693,375h3v9h-3zM702,342h1v27h-1zM701,354h3v6h-3zM715,333h1v36h-1zM714,343h3v25h-3zM719,351h1v27h-1zM718,367h3v8h-3zM724,357h1v38h-1zM723,374h3v12h-3zM728,382h1v29h-1zM727,385h3v22h-3zM737,399h1v24h-1zM736,403h3v13h-3zM741,406h1v27h-1zM740,415h3v12h-3zM750,420h1v26h-1zM749,421h3v8h-3zM754,423h1v30h-1zM753,429h3v22h-3zM758,445h1v35h-1zM757,450h3v16h-3zM763,463h1v15h-1zM762,465h3v5h-3zM775,452h1v17h-1zM774,453h3v5h-3zM784,447h1v7h-1zM783,448h3v3h-3zM788,447h1v15h-1zM787,450h3v10h-3zM793,457h1v7h-1zM792,458h3v5h-3zM797,454h1v9h-1zM796,462h3v1h-3zM801,461h1v31h-1zM800,462h3v21h-3zM814,434h1v15h-1zM813,437h3v9h-3zM819,443h1v23h-1zM818,445h3v17h-3zM823,458h1v7h-1zM822,461h3v3h-3zM840,421h1v16h-1zM839,425h3v12h-3zM844,435h1v31h-1zM843,436h3v20h-3zM849,452h1v18h-1zM848,455h3v12h-3zM857,464h1v14h-1zM856,464h3v11h-3zM862,467h1v20h-1zM861,474h3v7h-3zM866,478h1v9h-1zM865,480h3v2h-3zM870,472h1v23h-1zM869,481h3v13h-3zM875,486h1v22h-1zM874,494h3v10h-3zM883,485h1v6h-1zM882,488h3v2h-3zM888,489h1v11h-1zM887,490h3v6h-3zM896,489h1v12h-1zM895,491h3v6h-3zM901,495h1v8h-1zM900,497h3v4h-3zM905,498h1v15h-1zM904,500h3v11h-3zM918,487h1v11h-1zM917,492h3v1h-3zM922,482h1v23h-1zM921,493h3v11h-3zM926,501h1v6h-1zM925,503h3v2h-3zM931,503h1v15h-1zM930,504h3v13h-3zM944,472h1v12h-1zM943,475h3v4h-3zM957,447h1v23h-1zM956,458h3v1h-3zM961,457h1v17h-1zM960,459h3v13h-3zM965,468h1v14h-1zM964,470h3v5h-3zM969,468h1v11h-1zM968,472h3v7h-3zM974,476h1v5h-1zM973,478h3v2h-3zM982,469h1v15h-1zM981,477h3v4h-3zM991,454h1v11h-1zM990,456h3v7h-3zM995,461h1v18h-1zM994,462h3v14h-3zM1008,473h1v16h-1zM1007,474h3v14h-3zM1013,488h1v23h-1zM1012,488h3v5h-3zM1017,492h1v16h-1zM1016,492h3v14h-3zM1026,493h1v8h-1zM1025,495h3v5h-3zM1034,497h1v4h-1zM1033,498h3v3h-3zM1038,498h1v19h-1zM1037,500h3v13h-3zM1051,495h1v7h-1zM1050,498h3v3h-3zM1056,499h1v20h-1zM1055,500h3v17h-3zM1060,515h1v13h-1zM1059,516h3v9h-3zM1064,524h1v36h-1zM1063,525h3v19h-3zM1069,539h1v14h-1zM1068,543h3v5h-3zM1077,536h1v15h-1zM1076,540h3v4h-3zM1082,537h1v15h-1zM1081,544h3v5h-3zM1086,546h1v30h-1zM1085,548h3v27h-3zM1094,553h1v9h-1zM1093,555h3v4h-3zM1099,556h1v5h-1zM1098,557h3v2h-3zM1103,556h1v10h-1zM1102,559h3v2h-3zM1107,559h1v7h-1zM1106,559h3v6h-3zM1112,563h1v9h-1zM1111,564h3v5h-3zM1129,538h1v16h-1zM1128,542h3v10h-3zM1138,546h1v8h-1zM1137,548h3v5h-3zM1142,547h1v11h-1zM1141,552h3v5h-3zM1146,554h1v7h-1zM1145,556h3v2h-3zM1155,547h1v6h-1zM1154,548h3v4h-3zM1159,551h1v10h-1zM1158,552h3v7h-3zM1163,555h1v13h-1zM1162,558h3v7h-3zM1168,563h1v7h-1zM1167,564h3v4h-3zM1176,538h1v15h-1zM1175,541h3v9h-3zM1181,541h1v12h-1zM1180,549h3v3h-3z" fill="#ef5350"/>
</g>
<line x1="10" y1="552.5" x2="1285" y2="552.5" stroke="#ef5350" stroke-width="1" stroke-dasharray="1 2"/>
<path d="M899.7,347.2H987.7Q995.7,347.2 995.7,355.2V372.6Q995.7,380.6 987.7,380.6H952L938.7,435.1L935.7,380.6H899.7Q891.7,380.6 891.7,372.6V355.2Q891.7,347.2 899.7,347.2Z" fill="#fff" fill-opacity="0.6" stroke="#a52a2a" stroke-width="1.5" stroke-linejoin="miter"/>
<text x="902.6" y="366.8" font-size="12" fill="#a52a2a" stroke="#a52a2a" stroke-width="0.22" textLength="82" lengthAdjust="spacingAndGlyphs">Downtrend line</text>
<path d="M869.7,546.4H939.3Q947.3,546.4 947.3,554.4V555L972.4,545.6L947.3,571.8V571.7Q947.3,579.7 939.3,579.7H869.7Q861.7,579.7 861.7,571.7V554.4Q861.7,546.4 869.7,546.4Z" fill="#fff" fill-opacity="0.6" stroke="#a52a2a" stroke-width="1.5"/>
<text x="872.6" y="566.6" font-size="12" fill="#a52a2a" stroke="#a52a2a" stroke-width="0.22" textLength="64.5" lengthAdjust="spacingAndGlyphs">Support line</text>
<circle cx="1181.5" cy="610.5" r="9.7" fill="#fff" stroke="#9c27b0" stroke-width="1.6"/>
<path d="M1184.2,605.2L1177.2,610.9L1180.8,611L1178.2,616L1185.6,610.1L1182,610Z" fill="#9c27b0"/>
<circle cx="1188.5" cy="603.4" r="4.6" fill="#fff"/><circle cx="1188.5" cy="603.4" r="2.6" fill="#f23645"/>
</g>
<text x="18.1" y="46" font-size="12" fill="#131722" stroke="#131722" stroke-width="0.22" textLength="184.5" lengthAdjust="spacingAndGlyphs">Cardano / TetherUS · 1D · Binance</text>
<text x="210" y="46" font-size="12" fill="#131722" stroke="#131722" stroke-width="0.22" textLength="7.5" lengthAdjust="spacingAndGlyphs">O</text>
<text x="218.1" y="46" font-size="12" fill="#ef5350" stroke="#ef5350" stroke-width="0.22" textLength="35.2" lengthAdjust="spacingAndGlyphs">0.2870</text>
<text x="261.8" y="46" font-size="12" fill="#131722" stroke="#131722" stroke-width="0.22" textLength="7" lengthAdjust="spacingAndGlyphs">H</text>
<text x="269.6" y="46" font-size="12" fill="#ef5350" stroke="#ef5350" stroke-width="0.22" textLength="35" lengthAdjust="spacingAndGlyphs">0.2963</text>
<text x="313.3" y="46" font-size="12" fill="#131722" stroke="#131722" stroke-width="0.22" textLength="5.4" lengthAdjust="spacingAndGlyphs">L</text>
<text x="319.2" y="46" font-size="12" fill="#ef5350" stroke="#ef5350" stroke-width="0.22" textLength="34.5" lengthAdjust="spacingAndGlyphs">0.2803</text>
<text x="361.8" y="46" font-size="12" fill="#131722" stroke="#131722" stroke-width="0.22" textLength="6.5" lengthAdjust="spacingAndGlyphs">C</text>
<text x="368.8" y="46" font-size="12" fill="#ef5350" stroke="#ef5350" stroke-width="0.22" textLength="35.1" lengthAdjust="spacingAndGlyphs">0.2808</text>
<text x="412" y="46" font-size="12" fill="#ef5350" stroke="#ef5350" stroke-width="0.22" textLength="90" lengthAdjust="spacingAndGlyphs">−0.0062 (−2.16%)</text>
<text x="18.1" y="62.8" font-size="12" fill="#131722" stroke="#131722" stroke-width="0.22" textLength="81" lengthAdjust="spacingAndGlyphs">EMA (20, close)</text>
<text x="107.6" y="62.8" font-size="12" fill="#2962ff" stroke="#2962ff" stroke-width="0.22" textLength="35.6" lengthAdjust="spacingAndGlyphs">0.2826</text>
<text x="18.1" y="79.6" font-size="12" fill="#131722" stroke="#131722" stroke-width="0.22" textLength="81" lengthAdjust="spacingAndGlyphs">SMA (50, close)</text>
<text x="107" y="79.6" font-size="12" fill="#f23645" stroke="#f23645" stroke-width="0.22" textLength="35.6" lengthAdjust="spacingAndGlyphs">0.3189</text>
<g clip-path="url(#cpRsi)">
<rect x="10" y="676" width="1275" height="120" fill="#7e57c2" fill-opacity="0.1"/>
<line x1="10.4" y1="676.5" x2="1285" y2="676.5" stroke="#787b86" stroke-width="1" stroke-dasharray="5 6" shape-rendering="crispEdges"/>
<line x1="10.4" y1="736.5" x2="1285" y2="736.5" stroke="#9598a1" stroke-width="1" stroke-dasharray="5 6" shape-rendering="crispEdges"/>
<line x1="10.4" y1="795.5" x2="1285" y2="795.5" stroke="#787b86" stroke-width="1" stroke-dasharray="5 6" shape-rendering="crispEdges"/>
<polygon points="191.5,676.7 194.5,671.4 198.5,672.4 202.5,667.4 206.5,660.5 211.5,647.3 215.5,652.6 219.5,648.3 224.5,642.4 228.5,635.9 232.5,633.9 235.9,676.7" fill="url(#gUp)"/>
<polygon points="330.6,676.7 331.5,675.3 336.5,671.4 338.1,676.7" fill="url(#gUp)"/>
<polygon points="343.6,676.7 344.5,674.3 345.1,676.7" fill="url(#gUp)"/>
<polygon points="95.7,795.7 99.5,801.7 103.5,808.6 104.9,795.7" fill="url(#gDn)"/>
<polygon points="577.2,795.7 577.5,799.5 582.5,800.5 583.1,795.7" fill="url(#gDn)"/>
<polygon points="682.6,795.7 685.5,802.8 687.3,795.7" fill="url(#gDn)"/>
<polygon points="740.4,795.7 741.5,797.5 742.6,795.7" fill="url(#gDn)"/>
<polygon points="750.8,795.7 754.5,804.4 758.5,811.7 763.5,813.1 767.5,808.8 770.8,795.7" fill="url(#gDn)"/>
<polygon points="798.6,795.7 801.5,804.4 802.5,795.7" fill="url(#gDn)"/>
<polygon points="1063.9,795.7 1064.5,797.9 1069.5,801.8 1071.0,795.7" fill="url(#gDn)"/>
<polygon points="1083.2,795.7 1086.5,812.7 1088.5,795.7" fill="url(#gDn)"/>
<path d="M10.0,736.2C11.6,737.2 16.6,739.6 19.9,742.5C23.2,745.4 26.4,750.6 29.7,753.4C33.0,756.2 36.3,758.1 39.6,759.3C42.9,760.4 46.2,760.0 49.5,760.3C52.8,760.5 56.1,760.5 59.3,760.9C62.6,761.2 65.9,761.7 69.2,762.2C72.5,762.7 75.8,763.5 79.1,763.8C82.4,764.1 86.0,763.5 88.9,764.2C91.9,764.9 94.2,766.5 96.8,768.2C99.5,769.8 102.1,772.3 104.7,774.1C107.4,775.9 110.0,777.7 112.6,779.0C115.3,780.3 117.9,781.4 120.5,782.0C123.2,782.6 125.5,782.6 128.4,782.6C131.4,782.6 135.7,782.2 138.3,782.0C140.9,781.7 141.9,782.0 144.2,781.0C146.5,780.0 148.8,778.5 152.1,776.1C155.4,773.6 160.3,768.7 163.9,766.2C167.6,763.7 170.9,763.9 173.8,761.2C176.8,758.6 179.4,754.4 181.7,750.4C184.1,746.4 185.5,741.6 187.9,737.5C190.2,733.4 193.2,729.9 195.8,725.7C198.4,721.4 201.1,716.0 203.7,711.8C206.3,707.7 208.9,704.9 211.6,701.0C214.2,697.0 216.8,692.6 219.5,688.2C222.1,683.7 225.2,678.2 227.4,674.3C229.5,670.5 230.7,666.9 232.3,665.1C233.9,663.3 235.1,663.4 237.2,663.5C239.4,663.6 242.5,664.8 245.1,665.5C247.8,666.1 250.7,666.4 253.0,667.4C255.3,668.4 256.6,669.4 258.9,671.4C261.2,673.4 264.2,675.8 266.8,679.3C269.5,682.7 272.1,687.7 274.7,692.1C277.4,696.5 279.7,700.5 282.6,705.9C285.6,711.3 289.9,720.9 292.5,724.7C295.1,728.5 295.8,727.5 298.4,728.6C301.1,729.8 305.0,730.8 308.3,731.6C311.6,732.4 315.5,733.6 318.2,733.6C320.8,733.6 321.4,733.9 324.1,731.6C326.7,729.3 330.7,723.8 333.9,719.7C337.2,715.6 340.9,709.7 343.8,706.9C346.8,704.1 349.4,703.9 351.7,703.0C354.1,702.0 355.2,701.5 357.9,701.2C360.6,700.8 364.5,700.7 367.8,700.8C371.1,700.9 374.7,700.7 377.6,701.6C380.6,702.5 382.9,704.0 385.5,706.1C388.2,708.2 390.8,711.2 393.4,714.0C396.1,716.8 398.7,720.1 401.3,722.9C403.9,725.7 406.6,729.2 409.2,730.8C411.8,732.4 414.5,731.5 417.1,732.4C419.7,733.2 422.0,734.3 425.0,735.7C428.0,737.1 431.9,740.1 434.9,740.7C437.8,741.2 439.8,740.0 442.8,739.3C445.7,738.5 449.3,737.9 452.6,736.1C455.9,734.4 459.2,730.6 462.5,728.8C465.8,727.0 468.8,726.8 472.4,725.3C476.0,723.7 480.6,720.9 484.2,719.5C487.8,718.2 491.1,717.1 494.1,717.4C497.0,717.6 499.0,718.8 502.0,720.9C504.9,723.0 508.6,726.5 511.8,729.8C515.1,733.1 519.0,738.2 521.7,740.7C524.4,743.1 525.2,743.5 527.9,744.6C530.6,745.8 534.5,747.0 537.8,747.6C541.1,748.2 544.7,747.8 547.6,748.2C550.6,748.5 552.9,750.0 555.5,749.5C558.2,749.1 560.6,746.8 563.4,745.6C566.2,744.4 569.7,742.1 572.3,742.2C574.9,742.4 576.7,745.6 579.2,746.6C581.7,747.6 584.5,747.6 587.1,748.2C589.7,748.8 592.4,748.8 595.0,750.1C597.6,751.5 600.6,754.4 602.9,756.4C605.2,758.5 606.5,760.6 608.8,762.4C611.1,764.2 614.1,765.6 616.7,767.3C619.3,769.0 622.0,771.2 624.6,772.6C627.2,774.1 630.2,776.1 632.5,776.2C634.8,776.3 636.1,774.3 638.4,773.2C640.7,772.2 643.0,770.6 646.3,769.9C649.6,769.1 654.2,769.1 658.2,768.7C662.1,768.3 666.7,767.4 670.0,767.3C673.3,767.2 675.3,767.3 677.9,767.9C680.5,768.5 682.1,769.6 685.8,770.7C689.5,771.7 695.5,773.5 699.9,774.2C704.2,774.9 707.8,774.7 711.7,775.0C715.7,775.3 719.6,775.3 723.6,775.8C727.5,776.3 731.8,777.8 735.4,778.2C739.0,778.6 742.3,777.9 745.3,778.2C748.2,778.4 750.5,778.5 753.2,779.7C755.8,781.0 758.4,783.7 761.1,785.7C763.7,787.6 766.3,790.0 768.9,791.6C771.6,793.1 774.2,794.2 776.8,794.9C779.5,795.7 782.1,795.7 784.7,795.9C787.4,796.2 790.0,796.4 792.6,796.5C795.3,796.6 798.2,796.9 800.5,796.5C802.8,796.2 803.8,795.9 806.4,794.3C809.1,792.8 813.4,789.2 816.3,787.0C819.3,784.8 821.6,782.9 824.2,781.1C826.8,779.3 829.5,778.3 832.1,776.2C834.7,774.0 837.4,770.3 840.0,768.3C842.6,766.3 845.3,765.7 847.9,764.3C850.5,763.0 853.5,761.4 855.8,760.4C858.1,759.4 859.7,758.4 861.7,758.4C863.7,758.4 865.5,759.4 867.9,760.4C870.2,761.4 873.2,763.6 875.8,764.3C878.4,765.1 881.1,764.4 883.7,764.7C886.3,765.1 888.9,765.1 891.6,766.3C894.2,767.5 896.8,770.3 899.5,771.8C902.1,773.4 904.7,775.2 907.4,775.8C910.0,776.4 912.6,775.6 915.3,775.4C917.9,775.2 920.5,774.8 923.2,774.6C925.8,774.4 928.4,775.2 931.1,774.2C933.7,773.3 936.3,770.7 938.9,768.9C941.6,767.1 944.2,765.6 946.8,763.4C949.5,761.1 952.1,758.0 954.7,755.5C957.4,752.9 960.0,750.5 962.6,748.2C965.3,745.9 967.9,743.2 970.5,741.6C973.2,740.1 975.8,740.2 978.4,738.7C981.1,737.2 984.0,734.8 986.3,732.8C988.6,730.7 990.6,727.7 992.2,726.4C993.9,725.2 994.2,725.4 996.2,725.5C998.2,725.5 1001.8,726.0 1004.1,726.8C1006.4,727.7 1007.7,729.1 1010.0,730.8C1012.3,732.4 1014.9,734.9 1017.9,736.7C1020.9,738.5 1024.4,739.8 1027.8,741.6C1031.1,743.5 1034.9,745.9 1037.9,747.6C1040.9,749.2 1042.8,749.8 1045.8,751.5C1048.8,753.3 1052.4,755.6 1055.7,758.0C1058.9,760.5 1062.2,764.0 1065.5,766.3C1068.8,768.6 1072.1,769.9 1075.4,771.8C1078.7,773.8 1082.0,776.7 1085.3,778.2C1088.6,779.6 1092.2,779.8 1095.1,780.5C1098.1,781.3 1100.4,781.4 1103.0,782.5C1105.7,783.6 1108.6,786.0 1110.9,787.0C1113.2,788.1 1114.9,789.2 1116.8,789.0C1118.8,788.8 1120.5,787.1 1122.8,785.7C1125.1,784.2 1128.0,782.2 1130.7,780.5C1133.3,778.9 1135.9,777.5 1138.6,775.8C1141.2,774.1 1143.5,771.9 1146.4,770.3C1149.4,768.6 1153.0,767.0 1156.3,765.7C1159.6,764.5 1163.2,764.3 1166.2,762.8C1169.1,761.2 1171.6,758.0 1174.1,756.4C1176.5,754.9 1179.7,754.0 1180.8,753.5" fill="none" stroke="#fdd835" stroke-width="1.2"/>
<path d="M9.0,767.2L13.5,766.2L17.5,763.8L21.5,767.2L25.5,778.0L30.5,793.8L34.5,771.1L38.5,764.2L43.5,759.3L47.5,735.6L51.5,728.7L56.5,740.5L60.5,762.2L64.5,771.1L69.5,776.6L73.5,770.1L77.5,771.1L81.5,781.0L86.5,783.0L90.5,783.9L94.5,793.8L99.5,801.7L103.5,808.6L107.5,772.1L112.5,769.1L116.5,779.0L120.5,784.5L125.5,781.0L129.5,775.1L133.5,764.2L138.5,766.6L142.5,783.9L146.5,749.4L150.5,739.1L155.5,754.7L159.5,752.4L163.5,745.1L168.5,748.4L172.5,742.5L176.5,716.8L181.5,693.2L185.5,680.9L189.5,680.3L194.5,671.4L198.5,672.4L202.5,667.4L206.5,660.5L211.5,647.3L215.5,652.6L219.5,648.3L224.5,642.4L228.5,635.9L232.5,633.9L237.5,696.1L241.5,702.0L245.5,698.4L250.5,697.0L254.5,693.1L258.5,716.8L263.5,722.7L267.5,733.6L271.5,745.4L275.5,756.8L280.5,764.1L284.5,745.4L288.5,732.6L293.5,746.4L297.5,737.5L301.5,717.8L306.5,715.8L310.5,710.9L314.5,711.8L319.5,728.6L323.5,701.0L327.5,681.2L331.5,675.3L336.5,671.4L340.5,684.8L344.5,674.3L349.5,694.1L353.5,728.6L357.5,717.6L362.5,727.8L366.5,705.1L370.5,711.4L375.5,713.6L379.5,738.7L383.5,729.8L388.5,734.7L392.5,732.4L396.5,742.6L400.5,745.6L405.5,749.1L409.5,753.1L413.5,737.7L418.5,737.1L422.5,748.2L426.5,738.7L431.5,743.6L435.5,736.3L439.5,722.5L444.5,721.9L448.5,714.6L452.5,710.1L457.5,701.2L461.5,695.3L465.5,720.9L469.5,733.4L474.5,726.8L478.5,711.1L482.5,707.1L487.5,724.9L491.5,724.5L495.5,729.8L500.5,757.4L504.5,764.9L508.5,761.4L513.5,779.7L517.5,763.4L521.5,766.9L525.5,752.1L530.5,753.1L534.5,752.5L538.5,728.8L543.5,719.9L547.5,722.9L551.5,736.7L556.5,738.1L560.5,719.9L564.5,746.6L569.5,737.3L573.5,747.6L577.5,799.5L582.5,800.5L586.5,769.3L590.5,759.0L594.5,768.3L599.5,774.2L603.5,780.1L607.5,785.1L612.5,780.7L616.5,771.2L620.5,767.3L625.5,772.6L629.5,778.8L633.5,768.3L638.5,762.4L642.5,762.4L646.5,748.2L650.5,755.5L655.5,762.4L659.5,765.3L663.5,779.1L668.5,775.8L672.5,773.2L676.5,773.6L681.5,793.0L685.5,802.8L689.5,786.6L694.5,790.6L698.5,763.4L702.5,766.3L707.5,760.4L711.5,752.5L715.5,767.3L719.5,772.2L724.5,778.2L728.5,789.0L732.5,785.7L737.5,791.0L741.5,797.5L745.5,791.0L750.5,794.9L754.5,804.4L758.5,811.7L763.5,813.1L767.5,808.8L771.5,793.0L775.5,794.5L780.5,782.1L784.5,783.1L788.5,789.4L793.5,792.0L797.5,792.6L801.5,804.4L806.5,760.4L810.5,749.5L814.5,756.4L819.5,768.3L823.5,769.3L827.5,765.9L832.5,753.5L836.5,726.8L840.5,737.7L844.5,754.5L849.5,762.4L853.5,762.4L857.5,769.9L862.5,773.8L866.5,775.8L870.5,786.1L875.5,793.0L879.5,768.9L883.5,771.2L888.5,775.2L892.5,769.9L896.5,775.2L901.5,779.1L905.5,787.0L909.5,778.8L913.5,757.4L918.5,758.4L922.5,769.9L926.5,771.2L931.5,783.1L935.5,753.5L939.5,725.5L944.5,730.8L948.5,721.5L952.5,707.7L957.5,709.5L961.5,725.5L965.5,731.4L969.5,735.3L974.5,737.7L978.5,734.7L982.5,740.7L987.5,708.1L991.5,716.6L995.5,736.1L1000.5,734.3L1004.5,732.4L1008.5,752.1L1013.5,756.4L1017.5,771.2L1021.5,755.1L1026.5,759.8L1030.5,759.0L1034.5,760.4L1038.5,776.2L1043.5,763.4L1047.5,750.5L1051.5,753.1L1056.5,771.2L1060.5,782.1L1064.5,797.9L1069.5,801.8L1073.5,785.1L1077.5,789.6L1082.5,792.0L1086.5,812.7L1090.5,778.8L1094.5,781.1L1099.5,782.5L1103.5,782.1L1107.5,787.6L1112.5,791.0L1116.5,780.1L1120.5,769.3L1125.5,745.2L1129.5,756.1L1133.5,752.1L1138.5,755.5L1142.5,762.4L1146.5,763.0L1151.5,748.0L1155.5,752.5L1159.5,761.0L1163.5,769.7L1168.5,773.2L1172.5,726.8L1176.5,737.7L1181.5,743.6" fill="none" stroke="#7e57c2" stroke-width="3" stroke-linejoin="round" stroke-linecap="round"/>
</g>
<text x="18.3" y="643.3" font-size="12" fill="#131722" stroke="#131722" stroke-width="0.22" textLength="75.6" lengthAdjust="spacingAndGlyphs">RSI (14, close)</text>
<text x="102.2" y="643.3" font-size="12" fill="#7e57c2" stroke="#7e57c2" stroke-width="0.22" textLength="28.6" lengthAdjust="spacingAndGlyphs">47.25</text>
<text x="138.3" y="643.3" font-size="12" fill="#fdd835" stroke="#fdd835" stroke-width="0.22" textLength="29.6" lengthAdjust="spacingAndGlyphs">43.98</text>
<g shape-rendering="crispEdges">
<rect x="10" y="623" width="1340" height="1" fill="#e0e3eb"/>
<rect x="10" y="824" width="1340" height="1" fill="#dfe0e3"/>
<rect x="1284" y="28" width="1" height="823" fill="#dfe0e3"/>
</g>
<text x="1293" y="74.3" font-size="12" fill="#131722" stroke="#131722" stroke-width="0.22" textLength="35.3" lengthAdjust="spacingAndGlyphs">1.0000</text>
<text x="1293" y="108.3" font-size="12" fill="#131722" stroke="#131722" stroke-width="0.22" textLength="35.3" lengthAdjust="spacingAndGlyphs">0.9500</text>
<text x="1293" y="141.3" font-size="12" fill="#131722" stroke="#131722" stroke-width="0.22" textLength="35.3" lengthAdjust="spacingAndGlyphs">0.9000</text>
<text x="1293" y="175.3" font-size="12" fill="#131722" stroke="#131722" stroke-width="0.22" textLength="35.3" lengthAdjust="spacingAndGlyphs">0.8500</text>
<text x="1293" y="208.3" font-size="12" fill="#131722" stroke="#131722" stroke-width="0.22" textLength="35.3" lengthAdjust="spacingAndGlyphs">0.8000</text>
<text x="1293" y="242.3" font-size="12" fill="#131722" stroke="#131722" stroke-width="0.22" textLength="35.3" lengthAdjust="spacingAndGlyphs">0.7500</text>
<text x="1293" y="275.3" font-size="12" fill="#131722" stroke="#131722" stroke-width="0.22" textLength="35.3" lengthAdjust="spacingAndGlyphs">0.7000</text>
<text x="1293" y="309.3" font-size="12" fill="#131722" stroke="#131722" stroke-width="0.22" textLength="35.3" lengthAdjust="spacingAndGlyphs">0.6500</text>
<text x="1293" y="342.3" font-size="12" fill="#131722" stroke="#131722" stroke-width="0.22" textLength="35.3" lengthAdjust="spacingAndGlyphs">0.6000</text>
<text x="1293" y="376.3" font-size="12" fill="#131722" stroke="#131722" stroke-width="0.22" textLength="35.3" lengthAdjust="spacingAndGlyphs">0.5500</text>
<text x="1293" y="443.3" font-size="12" fill="#131722" stroke="#131722" stroke-width="0.22" textLength="35.3" lengthAdjust="spacingAndGlyphs">0.4500</text>
<text x="1293" y="476.3" font-size="12" fill="#131722" stroke="#131722" stroke-width="0.22" textLength="35.3" lengthAdjust="spacingAndGlyphs">0.4000</text>
<text x="1293" y="610.3" font-size="12" fill="#131722" stroke="#131722" stroke-width="0.22" textLength="35.3" lengthAdjust="spacingAndGlyphs">0.2000</text>
<text x="1293" y="650.8" font-size="12" fill="#131722" stroke="#131722" stroke-width="0.22" textLength="29.3" lengthAdjust="spacingAndGlyphs">80.00</text>
<text x="1293" y="709.8" font-size="12" fill="#131722" stroke="#131722" stroke-width="0.22" textLength="29.3" lengthAdjust="spacingAndGlyphs">60.00</text>
<rect x="1288.5" y="31.5" width="57" height="25" rx="4" fill="#fff" stroke="#ededef" stroke-width="1"/>
<text x="1297" y="49" font-size="12" fill="#131722" stroke="#131722" stroke-width="0.22" textLength="27.5" lengthAdjust="spacingAndGlyphs">USDT</text>
<path d="M1285,397H1332Q1334,397 1334,399V412Q1334,414 1332,414H1285Z" fill="#0000ff"/>
<text x="1292.8" y="409.8" font-size="12" fill="#fff" textLength="36" lengthAdjust="spacingAndGlyphs" font-weight="bold">0.5000</text>
<path d="M1285,493H1332Q1334,493 1334,495V508Q1334,510 1332,510H1285Z" fill="#0000ff"/>
<text x="1292.8" y="505.8" font-size="12" fill="#fff" textLength="36" lengthAdjust="spacingAndGlyphs" font-weight="bold">0.3300</text>
<path d="M1285,510H1332Q1334,510 1334,512V525Q1334,527 1332,527H1285Z" fill="#f23645"/>
<path d="M1236.3,510H1284V527H1236.3Q1234.3,527 1234.3,525V512Q1234.3,510 1236.3,510Z" fill="#f23645"/>
<text x="1239" y="522.8" font-size="12" fill="#fff" stroke="#fff" stroke-width="0.22" textLength="40.5" lengthAdjust="spacingAndGlyphs">SMA:MA</text>
<text x="1292.8" y="522.8" font-size="12" fill="#fff" textLength="36" lengthAdjust="spacingAndGlyphs" font-weight="bold">0.3189</text>
<path d="M1285,527H1332Q1334,527 1334,529V542Q1334,544 1332,544H1285Z" fill="#2962ff"/>
<path d="M1255,527H1284V544H1255Q1253,544 1253,542V529Q1253,527 1255,527Z" fill="#2962ff"/>
<text x="1258" y="539.8" font-size="12" fill="#fff" stroke="#fff" stroke-width="0.22" textLength="21.5" lengthAdjust="spacingAndGlyphs">EMA</text>
<text x="1292.8" y="539.8" font-size="12" fill="#fff" textLength="36" lengthAdjust="spacingAndGlyphs" font-weight="bold">0.2826</text>
<path d="M1285,544H1343Q1345,544 1345,546V586.6Q1345,588.6 1343,588.6H1285Z" fill="#ef5350"/>
<path d="M1228,544H1284V561H1228Q1226,561 1226,559V546Q1226,544 1228,544Z" fill="#ef5350"/>
<text x="1231" y="556.8" font-size="12" fill="#fff" stroke="#fff" stroke-width="0.22" textLength="48.5" lengthAdjust="spacingAndGlyphs">ADAUSDT</text>
<text x="1292.8" y="556.8" font-size="12" fill="#fff" textLength="36" lengthAdjust="spacingAndGlyphs" font-weight="bold">0.2808</text>
<text x="1293" y="570.8" font-size="12" fill="#fff" textLength="43" lengthAdjust="spacingAndGlyphs" font-weight="bold">−59.06%</text>
<text x="1293" y="584.8" font-size="12" fill="#fbd3d2" stroke="#fbd3d2" stroke-width="0.22" textLength="47" lengthAdjust="spacingAndGlyphs">08:26:20</text>
<path d="M1285,736H1326Q1328,736 1328,738V751Q1328,753 1326,753H1285Z" fill="#7e57c2"/>
<path d="M1261,736H1284V753H1261Q1259,753 1259,751V738Q1259,736 1261,736Z" fill="#7e57c2"/>
<text x="1264" y="748.8" font-size="12" fill="#fff" stroke="#fff" stroke-width="0.22" textLength="15.5" lengthAdjust="spacingAndGlyphs">RSI</text>
<text x="1293" y="748.8" font-size="12" fill="#fff" textLength="29.3" lengthAdjust="spacingAndGlyphs" font-weight="bold">47.25</text>
<path d="M1285,753H1326Q1328,753 1328,755V767.8Q1328,769.8 1326,769.8H1285Z" fill="#fdd835"/>
<path d="M1207,753H1284V769.8H1207Q1205,769.8 1205,767.8V755Q1205,753 1207,753Z" fill="#fdd835"/>
<text x="1209.5" y="765.8" font-size="12" fill="#131722" stroke="#131722" stroke-width="0.22" textLength="70.5" lengthAdjust="spacingAndGlyphs">RSI-based MA</text>
<text x="1293" y="765.8" font-size="12" fill="#131722" stroke="#131722" stroke-width="0.22" textLength="29.3" lengthAdjust="spacingAndGlyphs">43.98</text>
<g clip-path="url(#cpTime)">
<text x="13.5" y="842" font-size="12" fill="#131722" stroke="#131722" stroke-width="0.22" text-anchor="middle">Jun</text>
<text x="142.5" y="842" font-size="12" fill="#131722" stroke="#131722" stroke-width="0.22" text-anchor="middle">Jul</text>
<text x="275.5" y="842" font-size="12" fill="#131722" stroke="#131722" stroke-width="0.22" text-anchor="middle">Aug</text>
<text x="409.5" y="842" font-size="12" fill="#131722" stroke="#131722" stroke-width="0.22" text-anchor="middle">Sep</text>
<text x="538.5" y="842" font-size="12" fill="#131722" stroke="#131722" stroke-width="0.22" text-anchor="middle">Oct</text>
<text x="672.5" y="842" font-size="12" fill="#131722" stroke="#131722" stroke-width="0.22" text-anchor="middle">Nov</text>
<text x="801.5" y="842" font-size="12" fill="#131722" stroke="#131722" stroke-width="0.22" text-anchor="middle">Dec</text>
<text x="935.5" y="842" font-size="12" fill="#131722" text-anchor="middle" font-weight="bold">2026</text>
<text x="1069.5" y="842" font-size="12" fill="#131722" stroke="#131722" stroke-width="0.22" text-anchor="middle">Feb</text>
<text x="1189.5" y="842" font-size="12" fill="#131722" stroke="#131722" stroke-width="0.22" text-anchor="middle">Mar</text>
</g>
<path d="M12,874.3H23.8V888.7H18V880H12Z M33.5,874.3H41.9L36.8,888.7H29.1Z" fill="#111"/><circle cx="29.3" cy="876.9" r="2.45" fill="#111"/>
<text x="49.3" y="888.7" font-size="20" fill="#111" textLength="120.6" lengthAdjust="spacingAndGlyphs" font-weight="bold">TradingView</text>
</svg>
</body></html>
